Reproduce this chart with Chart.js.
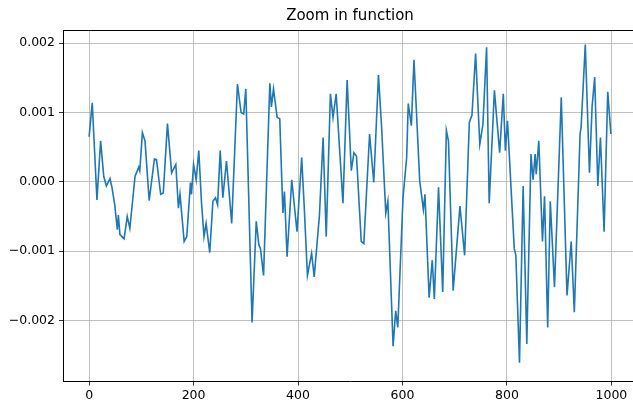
<!DOCTYPE html>
<html>
<head>
<meta charset="utf-8">
<script src="https://cdn.jsdelivr.net/npm/chart.js@4/dist/chart.umd.min.js"></script>
<style>
  html, body { margin: 0; padding: 0; background: #fff; overflow: hidden; }
  #wrap { width: 640px; height: 402px; }
</style>
</head>
<body>
<div id="wrap"><canvas id="chart" width="640" height="402"></canvas></div>
<script>
// sample index and value (in thousandths) of the traced signal
const sample_index = [
	0, 6, 15, 22, 28, 33, 40, 44, 49, 54, 56, 59, 63, 67, 73, 78, 88, 95, 97, 102,
	107, 115, 125, 129, 137, 142, 150, 158, 166, 171, 174, 182, 187, 194, 196, 200, 205, 210, 215, 220,
	224, 231, 237, 242, 246, 251, 256, 263, 273, 284, 291, 296, 300, 312, 320, 325, 328, 334, 346, 349,
	353, 360, 365, 371, 374, 379, 388, 398, 407, 412, 418, 426, 431, 441, 448, 454, 462, 467, 473, 486,
	494, 502, 507, 512, 521, 526, 537, 545, 554, 560, 568, 572, 582, 587, 591, 601, 608, 611, 617, 622,
	633, 640, 643, 651, 657, 661, 669, 677, 684, 688, 697, 710, 719, 728, 733, 740, 748, 754, 761, 766,
	776, 786, 793, 797, 801, 814, 817, 824, 831, 838, 846, 850, 854, 856, 861, 868, 872, 878, 883, 891,
	904, 915, 923, 929, 940, 942, 950, 958, 963, 968, 974, 979, 986, 993, 999
];
const sample_value_milli = [
	0.65, 1.14, -0.26, 0.59, 0.08, -0.06, 0.05, -0.09, -0.33, -0.69, -0.48, -0.76, -0.79, -0.82, -0.50, -0.67, 0.08, 0.21, 0.16, 0.71,
	0.59, -0.27, 0.33, 0.32, -0.18, -0.16, 0.84, 0.13, 0.25, -0.38, -0.18, -0.86, -0.79, -0.01, -0.18, 0.25, 0.03, 0.45, -0.28, -0.79,
	-0.60, -1.02, -0.28, -0.23, -0.33, 0.45, -0.23, 0.30, -0.60, 1.41, 1.00, 0.98, 1.34, -2.03, -0.57, -0.91, -0.96, -1.35, 1.42, 1.08,
	1.34, 0.93, 0.91, -0.45, -0.14, -1.08, 0.03, -0.72, 0.35, -0.38, -1.35, -1.03, -1.37, -0.48, 0.64, -0.79, 1.27, 0.93, 1.27, -0.31,
	1.47, 0.16, 0.42, 0.37, -0.86, -0.89, 0.69, -0.01, 1.54, 0.79, -0.45, -0.28, -2.37, -1.86, -2.10, -0.23, 0.35, 1.13, 0.81, 1.76,
	0.01, -0.40, -0.18, -1.67, -1.13, -1.69, -0.08, -1.59, 0.74, 0.59, -1.57, -0.35, -1.06, 0.86, 0.96, 1.85, 0.54, 0.83, 1.94, -0.31,
	1.32, 0.42, 1.27, 0.45, 0.88, -0.96, -1.06, -2.61, -0.06, -2.34, 0.40, 0.03, 0.40, 0.11, 0.59, -0.86, -0.21, -2.10, -0.28, -1.52,
	1.22, -1.64, -0.86, -1.88, 0.69, 0.79, 1.98, 0.13, 1.08, 1.51, -0.06, 0.64, -0.72, 1.30, 0.69
];

const x_ticks = [0, 200, 400, 600, 800, 1000];
const y_ticks = [-0.002, -0.001, 0, 0.001, 0.002];

const points = sample_index.map((x, i) => ({ x: x, y: sample_value_milli[i] / 1000 }));

const font_family = "'DejaVu Sans', sans-serif";

// top spine of the axes box (left and bottom come from the scales)
const frame_plugin = {
	id: 'frame',
	afterDraw(chart) {
		const a = chart.chartArea;
		const c = chart.ctx;
		c.save();
		c.strokeStyle = '#000';
		c.lineWidth = 1;
		c.beginPath();
		c.moveTo(a.left, Math.round(a.top) + 0.5);
		c.lineTo(a.right + 5, Math.round(a.top) + 0.5);
		c.stroke();
		c.restore();
	}
};

function fmt_y(v) {
	const s = Math.abs(v).toFixed(3);
	return v < -1e-12 ? '\u2212' + s : s;
}

new Chart(document.getElementById('chart').getContext('2d'), {
	type: 'line',
	data: {
		datasets: [{
			data: points,
			borderColor: '#1f77b4',
			borderWidth: 1.6,
			pointRadius: 0,
			tension: 0,
			fill: false
		}]
	},
	options: {
		responsive: false,
		animation: false,
		layout: { padding: { left: 0, right: 3, top: 0, bottom: 0 } },
		plugins: {
			legend: { display: false },
			tooltip: { enabled: false },
			title: {
				display: true,
				text: 'Zoom in function',
				fullSize: false,
				color: '#000',
				font: { family: font_family, size: 15, weight: 'normal', lineHeight: 1.2 },
				padding: { top: 7, bottom: 5 }
			}
		},
		scales: {
			x: {
				type: 'linear',
				min: -50,
				max: 1049,
				afterBuildTicks: s => { s.ticks = x_ticks.map(v => ({ value: v })); },
				afterFit: s => { s.height = 20.5; },
				ticks: {
					color: '#000',
					padding: 3,
					maxRotation: 0,
					font: { family: font_family, size: 12.5 },
					callback: v => String(v)
				},
				grid: { color: '#b0b0b0', lineWidth: 0.8, tickColor: '#000', tickLength: 4 },
				border: { display: true, color: '#000', width: 1 }
			},
			y: {
				type: 'linear',
				min: -0.00288,
				max: 0.00219,
				afterBuildTicks: s => { s.ticks = y_ticks.map(v => ({ value: v })); },
				afterFit: s => { s.width = 63; },
				ticks: {
					color: '#000',
					padding: 4,
					font: { family: font_family, size: 12.5 },
					callback: v => fmt_y(v)
				},
				grid: { color: '#b0b0b0', lineWidth: 0.8, tickColor: '#000', tickLength: 4 },
				border: { display: true, color: '#000', width: 1 }
			}
		}
	},
	plugins: [frame_plugin]
});
</script>
</body>
</html>
